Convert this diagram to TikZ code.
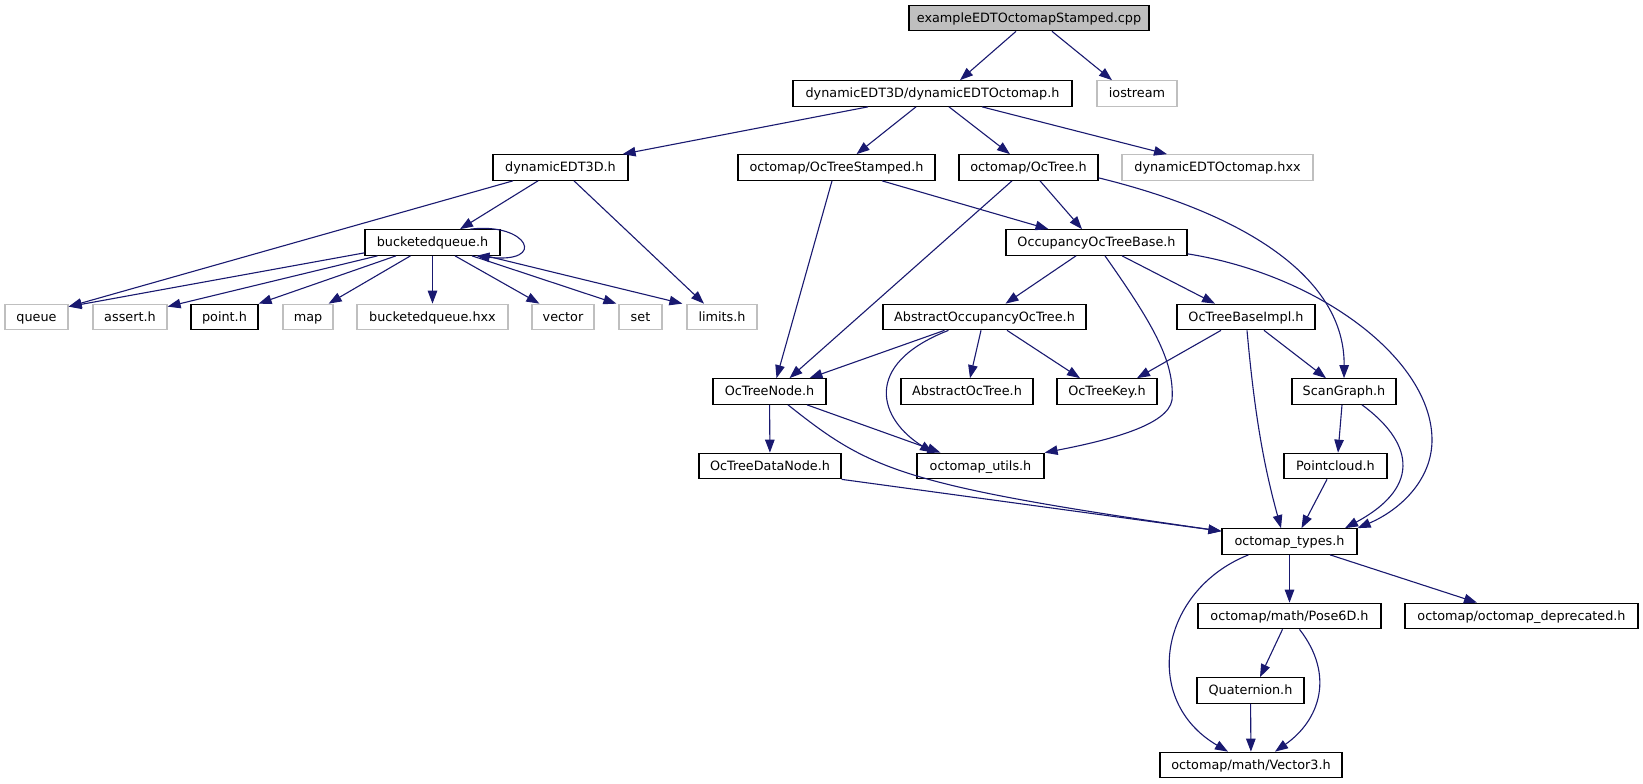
\documentclass[tikz,border=0pt]{standalone}
\usepackage{fontspec}
\setmainfont{DejaVu Sans}
\usetikzlibrary{arrows.meta}
\definecolor{edgeblue}{HTML}{191970}
\definecolor{sysgray}{HTML}{BFBFBF}
\definecolor{rootgray}{HTML}{BFBFBF}

\begin{document}
\begin{tikzpicture}[x=1pt, y=-1pt,
  every node/.style={draw=black, line width=1.2pt, fill=white, minimum height=25.5pt, inner xsep=2pt, inner ysep=0pt, text height=10.5pt, text depth=2.1pt, font=\fontsize{12.8}{15}\selectfont},
  sysfile/.style={draw=sysgray},
  rootfile/.style={fill=rootgray},
  dep/.style={draw=edgeblue, line width=1.1pt, -{Triangle[length=13pt,width=9.5pt]}}]
\path[fill=white, use as bounding box] (0,0) rectangle (1643,784);

\node[rootfile, minimum width=240pt] (cpp) at (1029,18) {exampleEDTOctomapStamped.cpp};

\node[minimum width=279pt] (dynoct) at (932.5,93.5) {dynamicEDT3D/dynamicEDTOctomap.h};
\node[sysfile, minimum width=80pt] (iostream) at (1137,93.5) {iostream};

\node[minimum width=135pt] (dedt) at (560.5,167.5) {dynamicEDT3D.h};
\node[minimum width=197pt] (ots) at (836.5,167.5) {octomap/OcTreeStamped.h};
\node[minimum width=139pt] (oct) at (1028.5,167.5) {octomap/OcTree.h};
\node[sysfile, minimum width=191pt] (hxx) at (1217.5,167.5) {dynamicEDTOctomap.hxx};

\node[minimum width=135pt] (bq) at (432.5,242.5) {bucketedqueue.h};
\node[minimum width=181pt] (otb) at (1096.5,242.5) {OccupancyOcTreeBase.h};

\node[sysfile, minimum width=63pt] (queue) at (36.5,317) {queue};
\node[sysfile, minimum width=74pt] (assert) at (130,317) {assert.h};
\node[minimum width=67pt] (point) at (224.5,317) {point.h};
\node[sysfile, minimum width=50pt] (map) at (308,317) {map};
\node[sysfile, minimum width=151pt] (bqhxx) at (432.5,317) {bucketedqueue.hxx};
\node[sysfile, minimum width=62pt] (vector) at (563,317) {vector};
\node[sysfile, minimum width=43pt] (set) at (640.5,317) {set};
\node[sysfile, minimum width=70pt] (limits) at (722,317) {limits.h};
\node[minimum width=203pt] (aoot) at (984.5,317) {AbstractOccupancyOcTree.h};
\node[minimum width=138pt] (otbi) at (1246,317) {OcTreeBaseImpl.h};

\node[minimum width=113pt] (otn) at (769.5,391.5) {OcTreeNode.h};
\node[minimum width=132pt] (aot) at (967,391.5) {AbstractOcTree.h};
\node[minimum width=100pt] (otk) at (1107,391.5) {OcTreeKey.h};
\node[minimum width=104pt] (sg) at (1344,391.5) {ScanGraph.h};

\node[minimum width=142pt] (otdn) at (770,466) {OcTreeDataNode.h};
\node[minimum width=127pt] (utils) at (980.5,466) {octomap\_utils.h};
\node[minimum width=103pt] (pc) at (1335.5,466) {Pointcloud.h};

\node[minimum width=135pt] (types) at (1289.5,541.5) {octomap\_types.h};

\node[minimum width=183pt] (pose) at (1289.5,616) {octomap/math/Pose6D.h};
\node[minimum width=233pt] (depr) at (1521.5,616) {octomap/octomap\_deprecated.h};

\node[minimum width=107pt] (quat) at (1250.5,690.5) {Quaternion.h};

\node[minimum width=182pt] (vec) at (1251,765) {octomap/math/Vector3.h};

\draw[dep] ([xshift=-13pt]cpp.south) -- ([xshift=27.5pt]dynoct.north);
\draw[dep] ([xshift=23pt]cpp.south) -- ([xshift=-25pt]iostream.north);
\draw[dep] ([xshift=-64.5pt]dynoct.south) -- ([xshift=-6pt]dedt.north east);
\draw[dep] ([xshift=-16.5pt]dynoct.south) -- ([xshift=20pt]ots.north);
\draw[dep] ([xshift=16.5pt]dynoct.south) -- ([xshift=-18.5pt]oct.north);
\draw[dep] ([xshift=49.5pt]dynoct.south) -- ([xshift=-50.5pt]hxx.north);
\draw[dep] ([xshift=-22.5pt]dedt.south) -- ([xshift=27.5pt]bq.north);
\draw[dep] ([xshift=-47.5pt]dedt.south) -- ([yshift=-3pt]queue.north east);
\draw[dep] ([xshift=13.5pt]dedt.south) -- ([xshift=-18pt]limits.north);
\draw[dep] ([xshift=37.5pt]bq.north) .. controls (528,222) and (548,264) .. ([xshift=44pt]bq.south);
\draw[dep] ([yshift=3pt]bq.south west) -- ([yshift=-3pt]queue.north east);
\draw[dep] ([xshift=-55pt]bq.south) -- ([yshift=-3pt]assert.north east);
\draw[dep] ([xshift=-36.5pt]bq.south) -- (point.north east);
\draw[dep] ([xshift=-22pt]bq.south) -- ([xshift=-5pt]map.north east);
\draw[dep] (bq) -- (bqhxx);
\draw[dep] ([xshift=22.5pt]bq.south) -- ([xshift=8pt]vector.north west);
\draw[dep] ([xshift=39.5pt]bq.south) -- ([xshift=-2pt]set.north west);
\draw[dep] ([xshift=53.5pt]bq.south) -- ([xshift=-4pt]limits.north west);
\draw[dep] ([xshift=-4.5pt]ots.south) -- ([xshift=7pt]otn.north);
\draw[dep] ([xshift=45.5pt]ots.south) -- ([xshift=-48pt]otb.north);
\draw[dep] ([xshift=-16.5pt]oct.south) -- ([xshift=20pt]otn.north);
\draw[dep] ([xshift=11.5pt]oct.south) -- ([xshift=-14.5pt]otb.north);
\draw[dep] ([yshift=3pt]oct.south east) .. controls (1250,215) and (1345,280) .. (sg.north);
\draw[dep] ([xshift=-20.5pt]otb.south) -- ([xshift=21pt]aoot.north);
\draw[dep] ([xshift=8.5pt]otb.south) .. controls (1150,320) and (1175,360) .. (1172,400) .. controls (1168,425) and (1110,440) .. (utils.north east);
\draw[dep] ([xshift=25.5pt]otb.south) -- ([xshift=-31pt]otbi.north);
\draw[dep] ([yshift=2pt]otb.south east) .. controls (1320,275) and (1432,360) .. (1432,440) .. controls (1432,480) and (1400,510) .. (types.north east);
\draw[dep] ([xshift=-40pt]aoot.south) -- ([xshift=40pt]otn.north);
\draw[dep] ([xshift=-36pt]aoot.south) .. controls (860,365) and (880,420) .. ([xshift=-47.5pt]utils.north);
\draw[dep] ([xshift=-3.5pt]aoot.south) -- ([xshift=3pt]aot.north);
\draw[dep] ([xshift=22.5pt]aoot.south) -- ([xshift=-27pt]otk.north);
\draw[dep] ([xshift=-25pt]otbi.south) -- ([xshift=30pt]otk.north);
\draw[dep] ([xshift=1pt]otbi.south) .. controls (1255,420) and (1265,470) .. ([xshift=-8.5pt]types.north);
\draw[dep] ([xshift=18pt]otbi.south) -- ([xshift=-18pt]sg.north);
\draw[dep] (otn) -- (otdn);
\draw[dep] ([xshift=37.5pt]otn.south) -- ([xshift=-40pt]utils.north);
\draw[dep] ([xshift=18.5pt]otn.south) .. controls (870,470) and (900,485) .. ([yshift=-3pt]types.north west);
\draw[dep] (otdn.south east) -- ([yshift=-3pt]types.north west);
\draw[dep] ([xshift=-2pt]sg.south) -- ([xshift=2.5pt]pc.north);
\draw[dep] ([xshift=18pt]sg.south) .. controls (1410,440) and (1425,485) .. ([xshift=55.5pt]types.north);
\draw[dep] ([xshift=-8.5pt]pc.south) -- ([xshift=12pt]types.north);
\draw[dep] ([xshift=-41pt]types.south) .. controls (1160,590) and (1140,700) .. ([xshift=-23pt]vec.north);
\draw[dep] (types) -- (pose);
\draw[dep] ([xshift=40.5pt]types.south) -- ([xshift=-44.5pt]depr.north);
\draw[dep] ([xshift=-7pt]pose.south) -- ([xshift=9.5pt]quat.north);
\draw[dep] ([xshift=10pt]pose.south) .. controls (1335,675) and (1320,720) .. ([xshift=24pt]vec.north);
\draw[dep] (quat) -- (vec);
\end{tikzpicture}
\end{document}
